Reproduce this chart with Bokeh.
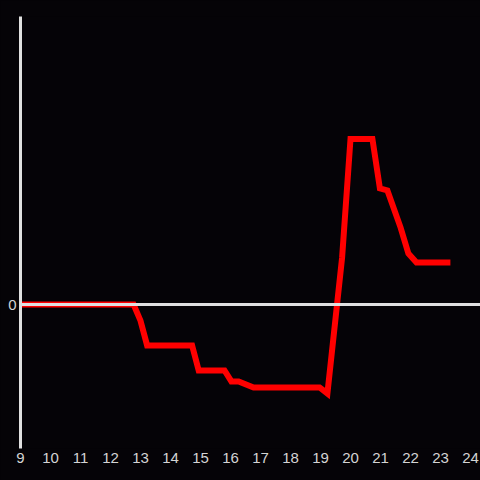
from bokeh.plotting import figure
from bokeh.models import Span, FixedTicker, Range1d
from bokeh.embed import file_html
from bokeh.resources import INLINE

# data (hour of day, value)
hours = [9.0, 12.77, 13.0, 13.22, 14.72, 14.94, 15.8, 16.03, 16.27, 16.77,
         18.97, 19.23, 19.72, 20.0, 20.73, 20.98, 21.23, 21.67, 21.93, 22.2, 23.33]
values = [0.0, 0.0, -0.56, -1.42, -1.42, -2.29, -2.29, -2.67, -2.67, -2.88,
          -2.88, -3.09, 1.63, 5.75, 5.75, 4.03, 3.96, 2.67, 1.77, 1.46, 1.46]
x_ticks = list(range(9, 25))
y_ticks = [0]

BG = "#050307"
AX = "#e0e0e0"
TXT = "#d4d4d4"

p = figure(width=480, height=480, output_backend="svg", toolbar_location=None,
           x_range=Range1d(9, 24.333), y_range=Range1d(-5, 10),
           min_border_left=20, min_border_right=0, min_border_top=16, min_border_bottom=32)
p.styles = {"background-color": BG}
p.background_fill_color = BG
p.border_fill_color = BG
p.outline_line_color = None
p.xgrid.visible = False
p.ygrid.visible = False

p.add_layout(Span(location=0, dimension="width", line_color=AX, line_width=3))
p.line(hours, values, line_color="#ff0000", line_width=6, line_join="miter")

xa = p.xaxis[0]
xa.ticker = FixedTicker(ticks=x_ticks)
xa.axis_line_color = None
xa.major_tick_line_color = None
xa.minor_tick_line_color = None
xa.major_tick_out = 0
xa.major_tick_in = 0
xa.major_label_standoff = 4
xa.major_label_text_color = TXT
xa.major_label_text_font = "Liberation Sans"
xa.major_label_text_font_size = "15px"

ya = p.yaxis[0]
ya.ticker = FixedTicker(ticks=y_ticks)
ya.axis_line_color = AX
ya.axis_line_width = 3
ya.major_tick_line_color = None
ya.minor_tick_line_color = None
ya.major_tick_out = 0
ya.major_tick_in = 0
ya.major_label_standoff = 4
ya.major_label_text_color = TXT
ya.major_label_text_font = "Liberation Sans"
ya.major_label_text_font_size = "15px"

open("out.html", "w").write(file_html(p, INLINE))
